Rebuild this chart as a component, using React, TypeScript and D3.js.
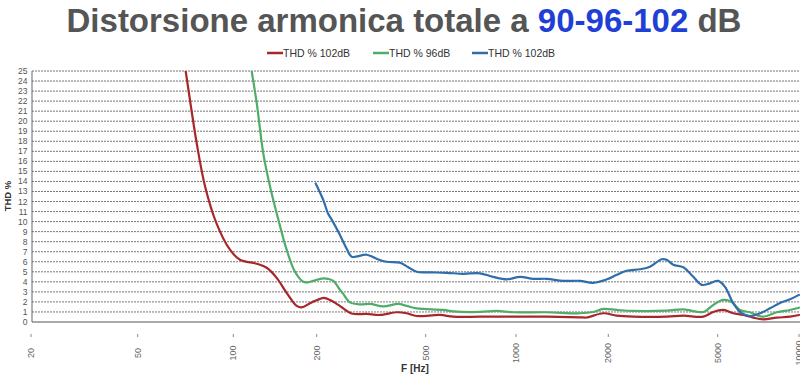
import React from 'react';
import * as d3 from 'd3';

// Frequency ticks (Hz) and THD ticks (%)
const FREQ_TICKS = [20, 50, 100, 200, 500, 1000, 2000, 5000, 10000];
const THD_TICKS = d3.range(0, 26);

const SERIES_NAMES = ['THD % 102dB', 'THD % 96dB', 'THD % 102dB'];
const SERIES_COLORS = ['#a8272a', '#4fad69', '#2f6eab'];

// [frequency Hz, THD %]
const THD_RED: [number, number][] = [
  [68.5, 28], [70.8, 25], [76.7, 17.8], [81.5, 13.5], [88.6, 9.8], [97.6, 7.2], [105.7, 6.2],
  [121.5, 5.8], [132, 5.4], [143.4, 4.4], [155.8, 2.9], [169.4, 1.6], [176.6, 1.45],
  [189.2, 1.87], [205.6, 2.3], [212, 2.4], [223.7, 2.2], [240, 1.7], [268, 0.85],
  [304.5, 0.8], [340.6, 0.7], [391.8, 0.97], [426.3, 0.87], [463.5, 0.6], [558, 0.7],
  [618, 0.53], [758, 0.53], [980, 0.53], [1259, 0.53], [1617, 0.47], [1700, 0.45],
  [1926, 0.87], [2146, 0.63], [2466, 0.53], [3262, 0.53], [3748, 0.63], [4433, 0.53],
  [4818, 1.0], [5245, 1.2], [5712, 0.87], [6218, 0.7], [6773, 0.43], [7377, 0.27],
  [8271, 0.43], [9262, 0.53], [10000, 0.7],
];

const THD_GREEN: [number, number][] = [
  [112, 28], [116.5, 25], [121.5, 21.8], [128.3, 16.8], [135.7, 13.5], [145.4, 10.2],
  [155.8, 7.2], [167, 5.0], [178.9, 4.0], [186, 3.95], [194.5, 4.1], [211.4, 4.35],
  [220, 4.3], [230, 4.1], [243.3, 3.2], [250, 2.8], [264.6, 1.95], [290, 1.75], [313, 1.8],
  [350, 1.55], [397, 1.8], [426, 1.6], [463.5, 1.36], [572, 1.2], [618, 1.05], [758, 1.0],
  [862, 1.1], [980, 0.97], [1259, 0.97], [1617, 0.87], [1787, 1.0], [1926, 1.3],
  [2146, 1.2], [2466, 1.1], [3262, 1.13], [3748, 1.26], [4433, 1.0], [4818, 1.7],
  [5245, 2.2], [5633, 2.0], [6047, 1.2], [6585, 0.97], [7377, 0.53], [8271, 0.97],
  [9262, 1.2], [10000, 1.42],
];

const THD_BLUE: [number, number][] = [
  [198.3, 13.8], [211.4, 12.15], [220, 10.8], [226.8, 10.2], [239.8, 9.0], [257.4, 7.3],
  [268.4, 6.5], [304.5, 6.7], [331, 6.3], [360, 6.0], [402.8, 5.9], [432, 5.45],
  [463.5, 5.0], [516.8, 4.95], [587, 4.9], [667, 4.8], [758, 4.85], [838, 4.5],
  [932, 4.25], [1030, 4.5], [1139, 4.3], [1259, 4.3], [1426, 4.1], [1617, 4.1],
  [1787, 3.9], [1979, 4.25], [2146, 4.7], [2333, 5.1], [2608, 5.25], [2836, 5.5],
  [3127, 6.25], [3262, 6.2], [3447, 5.7], [3748, 5.45], [4076, 4.5], [4373, 3.7],
  [4688, 3.85], [5026, 4.1], [5321, 3.5], [5712, 1.86], [6135, 0.87], [6585, 0.6],
  [7171, 0.87], [7809, 1.36], [8506, 1.9], [9262, 2.26], [10000, 2.7],
];

const SERIES = [THD_RED, THD_GREEN, THD_BLUE];

export default function App() {
  const W = 800;
  const H = 378;
  const left = 32;
  const right = 799;
  const top = 71;
  const bottom = 322;

  const x = d3
    .scaleLog()
    .domain(FREQ_TICKS)
    .range([31, 137.7, 233.3, 316.7, 425.7, 516, 608.3, 717.7, 799]);
  const y = d3.scaleLinear().domain([0, 25]).range([bottom, top]);

  const line = d3
    .line<[number, number]>()
    .x((d) => x(d[0]))
    .y((d) => y(d[1]))
    .curve(d3.curveCatmullRom.alpha(0.5));

  const font = "'Liberation Sans', Arial, Helvetica, sans-serif";

  const legendX = [267, 373, 472];

  return (
    <svg
      width={W}
      height={H}
      style={{ position: 'absolute', left: 0, top: 0, background: '#fff' }}
      fontFamily={font}
    >
      <defs>
        <clipPath id="plotClip">
          <rect x={left} y={top} width={right - left + 1} height={bottom - top} />
        </clipPath>
      </defs>
      <rect x={0} y={0} width={W} height={H} fill="#fff" />

      {/* Title */}
      <text x={404} y={32} textAnchor="middle" fontSize={33} fontWeight="bold" fill="#555">
        <tspan>Distorsione armonica totale a </tspan>
        <tspan fill="#1f3fd6">90-96-102</tspan>
        <tspan> dB</tspan>
      </text>

      {/* Legend */}
      {SERIES_NAMES.map((name, i) => (
        <g key={i}>
          <line
            x1={legendX[i]}
            x2={legendX[i] + 16}
            y1={53}
            y2={53}
            stroke={SERIES_COLORS[i]}
            strokeWidth={2.5}
          />
          <text x={legendX[i] + 16} y={56.5} fontSize={10.5} fill="#333">
            {name}
          </text>
        </g>
      ))}

      {/* Gridlines */}
      {THD_TICKS.filter((t) => t > 0).map((t) => (
        <line
          key={t}
          x1={left}
          x2={right}
          y1={y(t)}
          y2={y(t)}
          stroke="#777"
          strokeWidth={1}
          strokeDasharray="2,1"
        />
      ))}

      {/* Axes */}
      <line x1={left} x2={left} y1={top} y2={bottom} stroke="#666" strokeWidth={1} />
      <line x1={left} x2={right + 1} y1={bottom} y2={bottom} stroke="#555" strokeWidth={1.2} />

      {/* Y tick labels */}
      {THD_TICKS.map((t) => (
        <text key={t} x={27.5} y={y(t) + 3} textAnchor="end" fontSize={8.5} fill="#555">
          {t}
        </text>
      ))}
      <text
        transform={`translate(11,196) rotate(-90)`}
        textAnchor="middle"
        fontSize={9.5}
        fontWeight="bold"
        fill="#333"
      >
        THD %
      </text>

      {/* X ticks and labels */}
      {FREQ_TICKS.map((f) => (
        <g key={f}>
          <line x1={x(f)} x2={x(f)} y1={334} y2={337} stroke="#888" strokeWidth={1} />
          <text
            transform={`translate(${x(f) + 3},353) rotate(-90)`}
            textAnchor="middle"
            fontSize={9}
            fill="#666"
          >
            {f}
          </text>
        </g>
      ))}
      <text x={415} y={372} textAnchor="middle" fontSize={10} fontWeight="bold" fill="#333">
        F [Hz]
      </text>

      {/* Series */}
      <g clipPath="url(#plotClip)">
        {SERIES.map((s, i) => (
          <path
            key={i}
            d={line(s) || ''}
            fill="none"
            stroke={SERIES_COLORS[i]}
            strokeWidth={2.2}
            strokeLinejoin="round"
            strokeLinecap="round"
          />
        ))}
      </g>
    </svg>
  );
}
